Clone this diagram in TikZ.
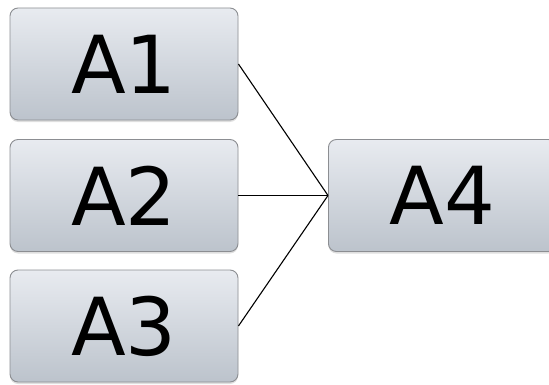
\documentclass[tikz,border=0pt]{standalone}
\usepackage{fontspec}
\setmainfont{DejaVu Sans}
\usetikzlibrary{shadows}
\definecolor{boxtop}{HTML}{E8EBF0}
\definecolor{boxbottom}{HTML}{BCC3CC}
\definecolor{boxline}{HTML}{8C8E92}
\begin{document}
\begin{tikzpicture}[x=1pt,y=1pt,
  block/.style={draw=boxline, line width=0.9pt, rounded corners=8pt,
    top color=boxtop, bottom color=boxbottom,
    minimum width=228pt, minimum height=112pt, inner sep=0pt,
    font=\fontsize{80}{80}\selectfont,
    drop shadow={opacity=0.25, shadow xshift=0pt, shadow yshift=-2pt}},
  link/.style={draw=black, line width=1.1pt}]
  \useasboundingbox (0,0) rectangle (549,384);
  \node[block] (A1) at (124,320) {A1};
  \node[block] (A2) at (124,188.5) {A2};
  \node[block] (A3) at (124,58) {A3};
  \node[block, anchor=west] (A4) at (328,188.5) {A4};
  \draw[link] (A1.east) -- (A4.west);
  \draw[link] (A2.east) -- (A4.west);
  \draw[link] (A3.east) -- (A4.west);
\end{tikzpicture}
\end{document}
